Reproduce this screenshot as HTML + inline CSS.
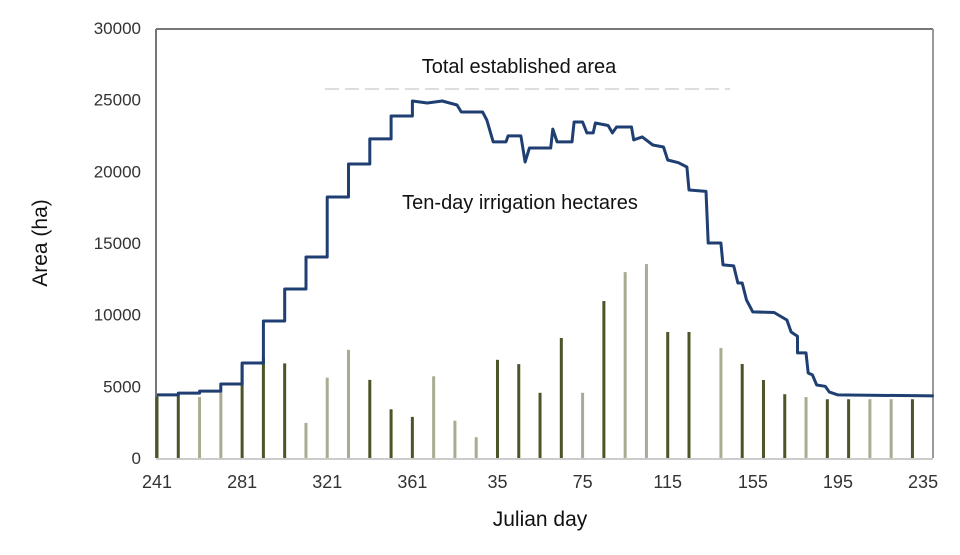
<!DOCTYPE html>
<html><head><meta charset="utf-8"><style>
body{margin:0;background:#fff;}
svg text{font-family:"Liberation Sans Narrow","Liberation Sans",sans-serif;}
</style></head><body>
<svg id="chart" width="960" height="550" xmlns="http://www.w3.org/2000/svg">
<rect x="0" y="0" width="960" height="550" fill="#fff"/>
<g id="grid">
<line x1="156" y1="29" x2="933" y2="29" stroke="#777" stroke-width="2"/>
<line x1="156" y1="29" x2="156" y2="458" stroke="#777" stroke-width="2"/>
<line x1="933" y1="29" x2="933" y2="458" stroke="#999" stroke-width="2"/>
</g>
<g id="bars"></g>
<line x1="156" y1="459" x2="933" y2="459" stroke="#ccc" stroke-width="2"/>
<path id="line" fill="none" stroke="#1f3f73" stroke-width="3" stroke-linejoin="round"/>
<g id="yticks"></g>
<g id="xticks"></g>
<line x1="325" y1="89" x2="730" y2="89" stroke="#ddd" stroke-width="2" stroke-dasharray="14 6"/>
<text x="519" y="73" font-size="20" text-anchor="middle" fill="#111">Total established area</text>
<text x="520" y="209" font-size="20" text-anchor="middle" fill="#111">Ten-day irrigation hectares</text>
<text x="540" y="526" font-size="21" text-anchor="middle" fill="#111">Julian day</text>
<text transform="translate(47,243) rotate(-90)" font-size="21" text-anchor="middle" fill="#111">Area (ha)</text>
</svg>
<script>
const yTicks=[0,5000,10000,15000,20000,25000,30000];
const xTickLabels=["241","281","321","361","35","75","115","155","195","235"];
const xTickDays=[0,40,80,120,160,200,240,280,320,360];
const barDays=[0,10,20,30,40,50,60,70,80,90,100,110,120,130,140,150,160,170,180,190,200,210,220,230,240,250,265,275,285,295,305,315,325,335,345,355];
const barValues=[4300,4400,4250,4600,6500,7000,6600,2450,5600,7550,5450,3400,2870,5700,2600,1450,6850,6550,4550,8370,4550,10950,12970,13530,8790,8790,7670,6560,5440,4450,4250,4100,4100,4100,4100,4100];
const barTone=[1,1,0,0,1,1,1,0,0,0,1,1,1,0,0,0,1,1,1,1,0,1,0,0,1,1,0,1,1,1,0,1,1,0,0,1];
const lineDays=[0,10,10,20,20,30,30,40,40,50,50,60,60,70,70,80,80,90,90,100,100,110,110,120,120,127,134,141,143,153,155,158,164,165,171,173,175,185,186,188,195,196,200,202,205,206,212,214,216,223,224,228,233,238,240,245,249,250,258,259,265,266,271,273,275,277,280,290,296,298,301,301,305,306,308,310,314,316,320,365];
const lineValues=[4400,4400,4530,4530,4670,4670,5160,5160,6630,6630,9560,9560,11790,11790,14020,14020,18210,18210,20510,20510,22260,22260,23860,23860,24910,24770,24910,24630,24140,24140,23580,22050,22050,22470,22470,20650,21630,21630,22950,22050,22050,23440,23440,22680,22680,23370,23200,22680,23090,23090,22190,22400,21840,21700,20790,20600,20300,18700,18600,15000,15000,13470,13400,12210,12210,11020,10190,10150,9630,8790,8500,7330,7330,5930,5800,5090,5000,4600,4400,4330];
const NS="http://www.w3.org/2000/svg";
function xs(d){return 157+d*2.128;}
function ys(v){return 458-v*430/30000;}
const bars=document.getElementById('bars');
barDays.forEach((d,i)=>{
  const r=document.createElementNS(NS,'rect');
  r.setAttribute('x',xs(d)-1.5);r.setAttribute('width',3);
  r.setAttribute('y',ys(barValues[i]));r.setAttribute('height',458-ys(barValues[i]));
  r.setAttribute('fill',barTone[i]?'#4a5528':'#a9ac92');
  
  
  bars.appendChild(r);
});
let dd='';
lineDays.forEach((d,i)=>{dd+=(i?'L':'M')+xs(d).toFixed(1)+' '+ys(lineValues[i]).toFixed(1);});
document.getElementById('line').setAttribute('d',dd);
const yt=document.getElementById('yticks');
yTicks.forEach(v=>{
  const t=document.createElementNS(NS,'text');
  t.setAttribute('x',141);t.setAttribute('y',ys(v)+6);
  t.setAttribute('text-anchor','end');t.setAttribute('font-size','17');t.setAttribute('fill','#333');
  t.textContent=v;
  
  
  yt.appendChild(t);
});
const xt=document.getElementById('xticks');
xTickLabels.forEach((l,i)=>{
  const t=document.createElementNS(NS,'text');
  t.setAttribute('x',xs(xTickDays[i]));t.setAttribute('y',488);
  t.setAttribute('text-anchor','middle');t.setAttribute('font-size','18');t.setAttribute('fill','#333');
  t.textContent=l;
  
  
  xt.appendChild(t);
});
</script>
</body></html>
